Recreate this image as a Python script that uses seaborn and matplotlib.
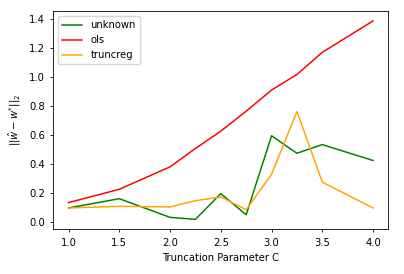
import matplotlib
matplotlib.use("Agg")
import matplotlib.pyplot as plt
import seaborn as sns
import pandas as pd

C = [1.0, 1.5, 2.0, 2.25, 2.5, 2.75, 3.0, 3.25, 3.5, 4.0]
unknown = [0.095, 0.159, 0.030, 0.016, 0.194, 0.048, 0.594, 0.473, 0.533, 0.423]
ols = [0.132, 0.224, 0.379, 0.506, 0.626, 0.764, 0.910, 1.018, 1.171, 1.388]
truncreg = [0.095, 0.106, 0.102, 0.145, 0.171, 0.083, 0.328, 0.762, 0.273, 0.095]
names = ["unknown", "ols", "truncreg"]
colors = ["green", "red", "orange"]

rows = []
for name, vals in zip(names, [unknown, ols, truncreg]):
    for c, v in zip(C, vals):
        rows.append({"C": c, "err": v, "method": name})
df = pd.DataFrame(rows)

plt.rcParams["font.size"] = 7.2
fig = plt.figure(figsize=(4.04, 2.74), dpi=100)
ax = fig.add_axes([53.3 / 404, 1 - 229.3 / 274, (388.3 - 53.3) / 404, (229.3 - 11) / 274])
sns.lineplot(data=df, x="C", y="err", hue="method", palette=dict(zip(names, colors)),
             hue_order=names, ax=ax, linewidth=1.08)
ax.set_xlabel("Truncation Parameter C", fontsize=7.2)
ax.set_ylabel(r"$||\hat{w} - w^{*}||_2$", fontsize=7.2)
ax.tick_params(labelsize=7.2, width=0.6, length=2.5)
for s in ax.spines.values():
    s.set_linewidth(0.6)
ax.set_yticks([0.0, 0.2, 0.4, 0.6, 0.8, 1.0, 1.2, 1.4])
ax.set_xticks([1.0, 1.5, 2.0, 2.5, 3.0, 3.5, 4.0])
ax.legend(title=None, loc="upper left", fontsize=7.2, frameon=True)
fig.savefig("out.png", dpi=100)
